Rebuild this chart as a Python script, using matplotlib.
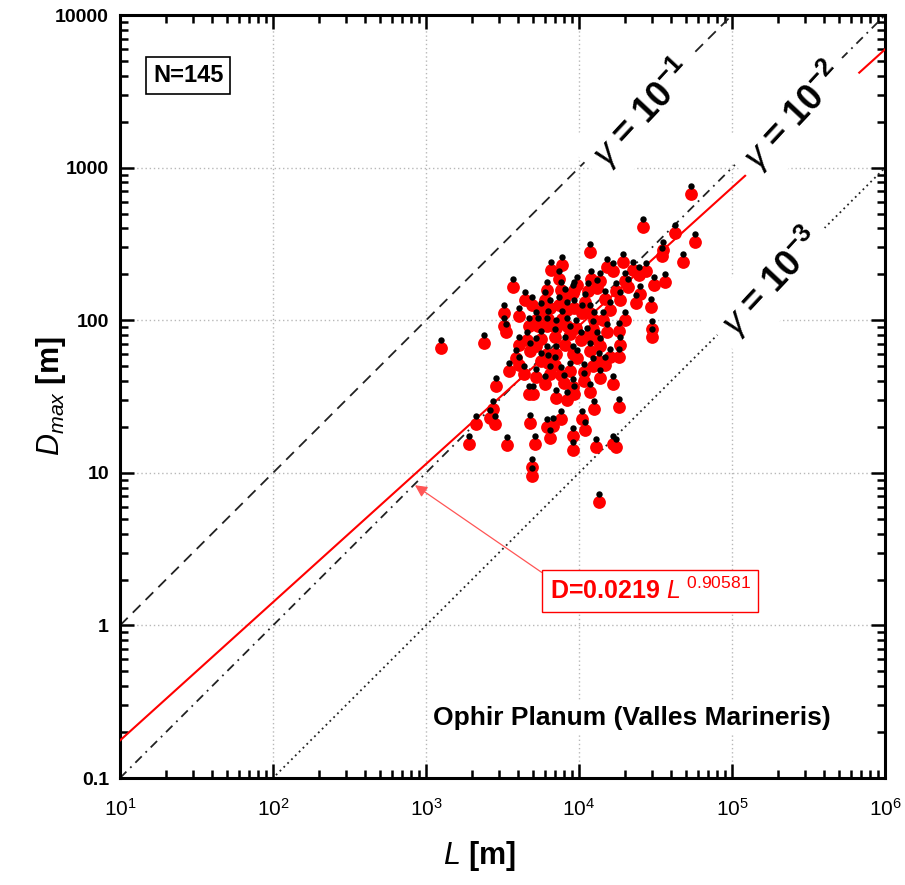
import numpy as np
import matplotlib
matplotlib.use("Agg")
import matplotlib.pyplot as plt
from matplotlib import ticker, transforms

plt.rcParams["font.family"] = ["Liberation Sans", "DejaVu Sans"]
plt.rcParams["mathtext.fontset"] = "custom"
plt.rcParams["mathtext.rm"] = "Liberation Sans"
plt.rcParams["mathtext.it"] = "Liberation Sans:italic"
plt.rcParams["mathtext.bf"] = "Liberation Sans:bold"

# log10 of rille length L [m] and maximum depth D [m]
LOG_L = [4.73, 4.42, 4.63, 4.76, 4.07, 4.55, 4.54, 4.68, 3.82, 3.89,
         3.87, 3.57, 4.18, 4.22, 4.29, 4.35, 4.44, 4.39, 4.49, 4.56,
         4.08, 4.14, 4.06, 4.24, 4.32, 4.37, 4.17, 3.96, 3.79, 3.51,
         3.52, 3.51, 4.47, 4.48, 4.48, 3.10, 3.38, 3.75, 3.81, 3.87,
         3.92, 3.97, 4.02, 3.72, 4.10, 4.16, 3.67, 3.73, 3.79, 3.85,
         3.92, 3.98, 4.09, 4.18, 4.26, 3.66, 3.84, 4.01, 3.72, 3.79,
         3.85, 3.59, 3.96, 4.14, 4.20, 4.26, 3.75, 3.80, 3.64, 3.72,
         3.81, 3.88, 3.94, 4.03, 4.09, 4.13, 4.03, 3.90, 3.70, 3.85,
         3.92, 3.97, 3.96, 3.46, 3.44, 3.42, 3.33, 3.45, 4.10, 4.26,
         4.02, 3.68, 3.79, 3.83, 3.81, 3.71, 3.96, 3.96, 4.11, 4.24,
         3.28, 3.53, 3.69, 3.69, 4.13, 3.67, 3.61, 4.22,
         3.69, 3.78, 3.91, 4.04, 3.61, 4.07, 4.20, 3.89, 3.80, 3.94,
         4.05, 4.12, 3.75, 3.68, 3.91, 4.07, 4.17, 3.99, 3.84, 3.78,
         4.07, 4.14, 4.22, 4.27, 4.30, 4.40, 4.27, 4.12, 3.99, 3.88,
         3.65, 3.61, 3.54, 4.30, 3.97, 3.88, 4.04]
LOG_D = [2.83, 2.61, 2.57, 2.51, 2.45, 2.46, 2.42, 2.38, 2.33, 2.36,
         2.27, 2.22, 2.35, 2.32, 2.38, 2.33, 2.32, 2.30, 2.23, 2.25,
         2.27, 2.26, 2.19, 2.19, 2.22, 2.11, 2.14, 2.18, 2.20, 2.05,
         1.92, 1.96, 2.09, 1.94, 1.89, 1.82, 1.85, 2.06, 2.08, 2.10,
         2.07, 2.08, 2.05, 2.00, 2.00, 2.00, 1.96, 1.96, 1.96, 1.95,
         1.96, 1.95, 1.94, 1.92, 1.93, 1.87, 1.89, 1.87, 1.83, 1.78,
         1.78, 1.75, 1.78, 1.83, 1.76, 1.76, 1.73, 1.72, 1.65, 1.63,
         1.65, 1.64, 1.67, 1.66, 1.70, 1.73, 1.60, 1.59, 1.52, 1.49,
         1.48, 1.52, 1.56, 1.57, 1.42, 1.36, 1.32, 1.32, 1.42, 1.43,
         1.35, 1.33, 1.30, 1.31, 1.23, 1.19, 1.24, 1.15, 1.17, 1.17,
         1.19, 1.18, 1.04, 0.98, 0.81, 1.52, 1.71, 1.19,
         2.10, 2.13, 2.15, 2.12, 2.03, 2.05, 2.07, 2.01, 2.01, 1.91,
         1.90, 1.87, 1.88, 1.80, 1.84, 1.80, 1.71, 1.75, 1.71, 1.58,
         1.53, 1.62, 1.58, 1.84, 2.00, 2.17, 2.13, 2.21, 2.23, 2.20,
         2.13, 1.84, 1.67, 2.26, 2.20, 1.35, 1.28]

FIT_A = 0.0219
FIT_B = 0.90581
GAMMAS = [1e-1, 1e-2, 1e-3]
GAMMA_LABELS = [r"$\gamma$ = $\mathbf{10^{-1}}$",
                r"$\gamma$ = $\mathbf{10^{-2}}$",
                r"$\gamma$ = $\mathbf{10^{-3}}$"]
REGION = "Ophir Planum (Valles Marineris)"

GAMMA_STYLES = [(0, (6, 4)), (0, (5, 3, 1, 3)), (0, (1, 2))]
GAMMA_LABEL_POS = [(0.683, 0.872), (0.880, 0.868), (0.852, 0.650)]

L = 10 ** np.array(LOG_L)
D = 10 ** np.array(LOG_D)

fig = plt.figure(figsize=(9.05, 8.85), dpi=100)
ax = fig.add_axes([0.1326, 0.1209, 0.8453, 0.862])
ax.set_xscale("log")
ax.set_yscale("log")
ax.set_xlim(10, 1e6)
ax.set_ylim(0.1, 1e4)

line_x = np.logspace(1, 6, 200)
for gamma, style in zip(GAMMAS, GAMMA_STYLES):
    ax.plot(line_x, gamma * line_x, color="#222222", lw=1.3, ls=style, zorder=2)
ax.plot(line_x, FIT_A * line_x ** FIT_B, color="red", lw=1.5, zorder=3)

# the red circles sit under a small black dot drawn a few pixels higher
ax.plot(L, D, ls="", marker="o", ms=9.2, color="red", mec="none", zorder=4)
lifted = transforms.offset_copy(ax.transData, fig=fig, y=8, units="dots")
ax.plot(L, D, ls="", marker="o", ms=4.6, color="black", mec="none",
        transform=lifted, zorder=5)

for label, (tx, ty) in zip(GAMMA_LABELS, GAMMA_LABEL_POS):
    ax.text(tx, ty, label, transform=ax.transAxes, rotation=47, fontsize=26,
            fontweight="bold", ha="center", va="center", zorder=6,
            rotation_mode="anchor",
            bbox=dict(boxstyle="square,pad=0.3", facecolor="white", edgecolor="none"))

ax.annotate(r"D=0.0219 $L^{\ 0.90581}$", xy=(847, 8.3), xytext=(0.693, 0.245),
            textcoords="axes fraction", ha="center", va="center", fontsize=18,
            fontweight="bold", color="red", zorder=7,
            bbox=dict(boxstyle="square,pad=0.3", facecolor="white", edgecolor="red", lw=1.0),
            arrowprops=dict(arrowstyle="-|>", color="#ff5555", lw=0.9,
                            mutation_scale=18, shrinkA=0, shrinkB=0,
                            relpos=(0.0, 1.0)))

ax.text(0.089, 0.921, "N=145", transform=ax.transAxes, ha="center", va="center",
        fontsize=17, fontweight="bold", zorder=7,
        bbox=dict(boxstyle="square,pad=0.3", facecolor="white", edgecolor="black", lw=1.2))
ax.text(0.669, 0.079, REGION, transform=ax.transAxes, ha="center", va="center",
        fontsize=19, fontweight="bold", zorder=7,
        bbox=dict(boxstyle="square,pad=0.2", facecolor="white", edgecolor="none"))

ax.grid(True, which="major", ls=(0, (1, 2)), color="#b8b8b8", lw=1.0)
ax.set_axisbelow(True)
for spine in ax.spines.values():
    spine.set_linewidth(2.2)
ax.tick_params(which="both", direction="in", top=True, right=True, width=1.8)
ax.tick_params(which="major", length=10)
ax.tick_params(which="minor", length=6)
ax.tick_params(axis="x", which="major", pad=14, labelsize=15)
ax.tick_params(axis="y", which="major", pad=8, labelsize=14)
ax.yaxis.set_major_formatter(ticker.FuncFormatter(lambda v, _: f"{v:g}"))
for lbl in ax.get_yticklabels():
    lbl.set_fontweight("bold")

ax.set_xlabel(r"$\mathbf{\mathit{L}}$ [m]", fontsize=22, fontweight="bold")
ax.set_ylabel(r"$\mathbf{\mathit{D}}_{\mathit{max}}$ [m]", fontsize=22, fontweight="bold")
ax.xaxis.set_label_coords(0.47, -0.080)
ax.yaxis.set_label_coords(-0.068, 0.5)

fig.savefig("out.png", dpi=100)
